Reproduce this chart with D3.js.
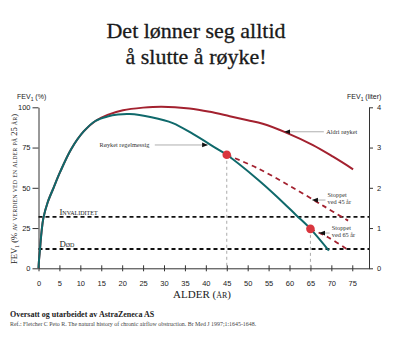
<!DOCTYPE html>
<html><head><meta charset="utf-8">
<script src="https://cdn.jsdelivr.net/npm/d3@7"></script>
<style>
body{margin:0;background:#fff;}
svg{display:block;}
</style></head>
<body>
<svg id="c" width="400" height="355"></svg>
<script>
// ---------- data ----------
const titleLines = ["Det lønner seg alltid", "å slutte å røyke!"];
const xTicks = [0,5,10,15,20,25,30,35,40,45,50,55,60,65,70,75];
const yTicksPct = [0,25,50,75,100];
const yTicksLiter = [0,1,2,3,4];

// common rise (both curves)
const riseAges = [0, 0.12, 0.36, 0.7, 1.15, 2.2, 3.6, 5.2, 7.8, 10.8, 13.6];
const riseVals = [0, 5, 12, 22, 31, 41, 50, 60, 74, 85, 91.5];

// never smoked (continuation)
const neverAges = [16.5, 20.2, 25, 29.4, 36.1, 41, 45.7, 50, 53.6, 59.2, 65.6, 70.4, 75.2];
const neverVals = [95.3, 98.2, 99.8, 100.4, 99.3, 97.2, 94.5, 92, 89.8, 84.3, 76.5, 69.3, 61.5];

// regular smoker (continuation)
const smokerAges = [16.5, 19, 21.8, 27, 32.1, 37, 42.5, 45, 52.4, 57, 61.6, 65, 69.4];
const smokerVals = [94.3, 95.5, 95.8, 93.8, 90.2, 83.3, 74.5, 70.5, 55.2, 44.5, 33, 24.5, 11];

// stopped at 45
const stop45Ages = [45, 52.4, 60.4, 68.4, 74];
const stop45Vals = [70.5, 62.1, 50.7, 38.3, 29.6];
// stopped at 65
const stop65Ages = [65, 69.2, 74];
const stop65Vals = [24.5, 19.3, 11.4];

const quitAges = [45, 65];
const quitVals = [70.5, 24.5];

const thresholdNames = ["Invaliditet", "Død"];
const thresholdVals = [32, 12];

// ---------- layout ----------
const svg = d3.select("#c");
const x = d3.scaleLinear().domain([0, 79]).range([38.5, 369]);
const y = d3.scaleLinear().domain([0, 100]).range([268.3, 107.3]);
const yL = d3.scaleLinear().domain([0, 4]).range([268.3, 107.3]);

const RED = "#a3212f", TEAL = "#0f696b", DOT = "#d9363e";

// title
svg.selectAll("text.title").data(titleLines).join("text")
  .attr("class","title")
  .attr("x", 196).attr("y", (d,i)=> 38 + i*26)
  .attr("text-anchor","middle")
  .attr("font-family","'Liberation Serif', serif")
  .attr("font-size", 22)
  .attr("fill","#1a1a1a").attr("stroke","#1a1a1a").attr("stroke-width",0.3)
  .text(d=>d);

// axis titles
const axTitle = svg.append("text").attr("x",17).attr("y",99)
  .attr("font-family","'Liberation Sans', Arial, sans-serif").attr("font-size",7).attr("fill","#222");
axTitle.append("tspan").text("FEV");
axTitle.append("tspan").attr("font-size",5).attr("dy",1.5).text("1");
axTitle.append("tspan").attr("dy",-1.5).text(" (%)");

const axTitleR = svg.append("text").attr("x",347).attr("y",99)
  .attr("font-family","'Liberation Sans', Arial, sans-serif").attr("font-size",7).attr("fill","#222");
axTitleR.append("tspan").text("FEV");
axTitleR.append("tspan").attr("font-size",5).attr("dy",1.5).text("1");
axTitleR.append("tspan").attr("dy",-1.5).text(" (liter)");

// rotated y label
const yl = svg.append("text")
  .attr("transform","translate(17,189) rotate(-90)")
  .attr("text-anchor","middle")
  .attr("font-family","'Liberation Serif', serif").attr("font-size",8.5).attr("fill","#222");
yl.append("tspan").text("FEV");
yl.append("tspan").attr("font-size",6).attr("dy",2).text("1");
yl.append("tspan").attr("dy",-2).attr("font-variant","small-caps").text(" (% av verdien ved en alder på 25 år)");

// x label
svg.append("text").attr("x",202).attr("y",298).attr("text-anchor","middle")
  .attr("font-family","'Liberation Serif', serif").attr("font-size",11)
  .attr("font-variant","small-caps").attr("fill","#222").text("ALDER (år)");

// axes
const axisFont = "'Liberation Sans', Arial, sans-serif";
const gL = svg.append("g").attr("transform",`translate(${x(0)},0)`)
  .call(d3.axisLeft(y).tickValues(yTicksPct).tickSize(6).tickSizeOuter(0).tickPadding(2));
const gR = svg.append("g").attr("transform",`translate(${x(79)},0)`)
  .call(d3.axisRight(yL).tickValues(yTicksLiter).tickFormat(d3.format("d")).tickSize(4).tickSizeOuter(0).tickPadding(4));
const gX = svg.append("g").attr("transform",`translate(0,${y(0)})`)
  .call(d3.axisBottom(x).tickValues(xTicks).tickSize(3).tickSizeOuter(0).tickPadding(9));
gX.selectAll(".tick line").attr("y1",-3);
[gL,gR,gX].forEach(g=>{
  g.selectAll("path.domain").attr("stroke","#333").attr("stroke-width",1);
  g.selectAll(".tick line").attr("stroke","#333");
  g.selectAll("text").attr("font-family",axisFont).attr("font-size",7.5).attr("fill","#222");
});

// threshold lines
svg.selectAll("line.thr").data(thresholdVals).join("line").attr("class","thr")
  .attr("x1", x(0)).attr("x2", x(79))
  .attr("y1", d=>y(d)).attr("y2", d=>y(d))
  .attr("stroke","#111").attr("stroke-width",1.8).attr("stroke-dasharray","4,3");
svg.selectAll("text.thr").data(thresholdNames).join("text").attr("class","thr")
  .attr("x", x(5)).attr("y",(d,i)=> y(thresholdVals[i]) - 2)
  .attr("font-family","'Liberation Serif', serif").attr("font-size",8.8)
  .attr("font-variant","small-caps").attr("fill","#222").text(d=>d);

// vertical guide lines at quit ages
svg.selectAll("line.guide").data(quitAges).join("line").attr("class","guide")
  .attr("x1", d=>x(d)).attr("x2", d=>x(d))
  .attr("y1",(d,i)=>y(quitVals[i])).attr("y2", y(0))
  .attr("stroke","#aaa").attr("stroke-width",1).attr("stroke-dasharray","3,3");

// curves
const zip = (a,b)=> a.map((v,i)=>[v,b[i]]);
const line = d3.line().x(d=>x(d[0])).y(d=>y(d[1])).curve(d3.curveCatmullRom.alpha(0.5));
const neverPts = zip(riseAges,riseVals).concat(zip(neverAges,neverVals));
const smokerPts = zip(riseAges,riseVals).concat(zip(smokerAges,smokerVals));

svg.append("path").attr("d", line(neverPts)).attr("fill","none")
  .attr("stroke",RED).attr("stroke-width",2);
svg.append("path").attr("d", line(zip(stop45Ages,stop45Vals))).attr("fill","none")
  .attr("stroke",RED).attr("stroke-width",1.8).attr("stroke-dasharray","5,4");
svg.append("path").attr("d", line(zip(stop65Ages,stop65Vals))).attr("fill","none")
  .attr("stroke",RED).attr("stroke-width",1.8).attr("stroke-dasharray","5,4");
svg.append("path").attr("d", line(smokerPts)).attr("fill","none")
  .attr("stroke",TEAL).attr("stroke-width",2);

svg.selectAll("circle.q").data(quitAges).join("circle").attr("class","q")
  .attr("cx", d=>x(d)).attr("cy",(d,i)=>y(quitVals[i])).attr("r",4.3)
  .attr("fill",DOT);

// annotations
svg.append("defs").append("marker").attr("id","ah")
  .attr("viewBox","0 0 10 10").attr("refX",9).attr("refY",5)
  .attr("markerWidth",6).attr("markerHeight",6).attr("markerUnits","userSpaceOnUse")
  .attr("orient","auto-start-reverse")
  .append("path").attr("d","M0,1 L10,5 L0,9 Z").attr("fill","#111");

const annLabels = [["Aldri røyket"], ["Røyket regelmessig"], ["Stoppet","ved 45 år"], ["Stoppet","ved 65 år"]];
const annTextAge = [68.8, 14.6, 69.1, 70.1];
const annTextVal = [83.3, 75.6, 44.5, 24.0];
const annFromAge = [68.2, 27.8, 68.6, 69.6];
const annTipAge = [58.9, 40.4, 65.5, 67.2];
const annTipVal = [84.8, 76.6, 42.4, 21.9];

annLabels.forEach((lines,i)=>{
  const t = svg.append("text").attr("x", x(annTextAge[i])).attr("y", y(annTextVal[i]))
    .attr("font-family","'Liberation Serif', serif").attr("font-size",6.3).attr("fill","#333");
  lines.forEach((l,j)=> t.append("tspan").attr("x", x(annTextAge[i])).attr("dy", j? 7:0).text(l));
  svg.append("line").attr("x1", x(annFromAge[i])).attr("y1", y(annTipVal[i]))
    .attr("x2", x(annTipAge[i])).attr("y2", y(annTipVal[i]))
    .attr("stroke","#777").attr("stroke-width",0.6).attr("marker-end","url(#ah)");
});

// footer
svg.append("text").attr("x",10).attr("y",316.5)
  .attr("font-family","'Liberation Serif', serif").attr("font-weight","bold").attr("font-size",8)
  .attr("fill","#222").text("Oversatt og utarbeidet av AstraZeneca AS");
svg.append("text").attr("x",10).attr("y",325.5)
  .attr("font-family","'Liberation Serif', serif").attr("font-size",5.9)
  .attr("fill","#444")
  .text("Ref.: Fletcher C Peto R. The natural history of chronic airflow obstruction.  Br Med J 1997;1:1645-1648.");
</script>
</body></html>
